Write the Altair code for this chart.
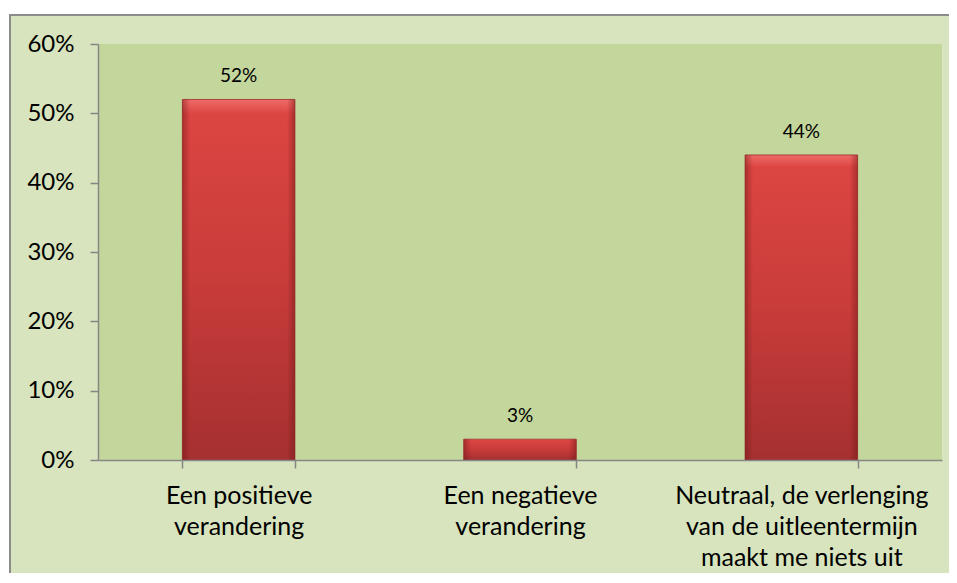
import altair as alt
import pandas as pd

categories = [
    "Een positieve verandering",
    "Een negatieve verandering",
    "Neutraal, de verlenging van de uitleentermijn maakt me niets uit",
]
label_lines = [
    "Een positieve|verandering",
    "Een negatieve|verandering",
    "Neutraal, de verlenging|van de uitleentermijn|maakt me niets uit",
]
values = [0.52, 0.03, 0.44]
y_ticks = [0, 0.1, 0.2, 0.3, 0.4, 0.5, 0.6]

df = pd.DataFrame({"cat": label_lines, "val": values})
one = pd.DataFrame({"a": [0]})

W, H = 844, 416
FONT = "Lato"

outer = alt.Chart(one).mark_rect(fill="#D7E4BD", stroke="#8C8C8C", strokeWidth=2).encode(
    x=alt.value(-88), x2=alt.value(W + 60), y=alt.value(-29), y2=alt.value(H + 200)
)
inner = alt.Chart(one).mark_rect(fill="#C3D69B").encode(
    x=alt.value(0), x2=alt.value(W), y=alt.value(0), y2=alt.value(H)
)

xaxis = alt.Axis(
    title=None,
    zindex=1,
    labelAngle=0,
    labelExpr="split(datum.label, '|')",
    tickBand="extent",
    tickSize=8,
    labelPadding=15,
    labelFontSize=25,
    labelLineHeight=31,
    labelBaseline="top",
    labelLimit=400,
)
yaxis = alt.Axis(
    title=None,
    zindex=1,
    values=y_ticks,
    format=".0%",
    tickSize=8,
    labelPadding=16,
    labelFontSize=24,
    grid=False,
)

xenc = alt.X("cat:N", sort=label_lines,
             scale=alt.Scale(paddingInner=0.6, paddingOuter=0.3), axis=xaxis)
yenc = alt.Y("val:Q", scale=alt.Scale(domain=[0, 0.6], nice=False), axis=yaxis)

bars = alt.Chart(df).mark_bar(
    stroke="#9B2F2D",
    strokeWidth=0.8,
    fill=alt.Gradient(
        gradient="linear",
        x1=0, y1=0, x2=0, y2=1,
        stops=[
            alt.GradientStop(offset=0, color="#EE6B68"),
            alt.GradientStop(offset=0.04, color="#DC4542"),
            alt.GradientStop(offset=0.5, color="#C83C3A"),
            alt.GradientStop(offset=1, color="#A53030"),
        ],
    ),
).encode(x=xenc, y=yenc)

bevel = alt.Chart(df).mark_bar(
    fill=alt.Gradient(
        gradient="linear",
        x1=0, y1=0, x2=1, y2=0,
        stops=[
            alt.GradientStop(offset=0, color="rgba(110,20,20,0.45)"),
            alt.GradientStop(offset=0.07, color="rgba(110,20,20,0)"),
            alt.GradientStop(offset=0.93, color="rgba(110,20,20,0)"),
            alt.GradientStop(offset=1, color="rgba(110,20,20,0.45)"),
        ],
    ),
).encode(x=xenc, y=yenc)

text = alt.Chart(df).mark_text(
    dy=-17, baseline="alphabetic", fontSize=19, font=FONT, color="#000000"
).encode(
    x=xenc,
    y=yenc,
    text=alt.Text("val:Q", format=".0%"),
)

chart = alt.layer(outer, inner, bars, bevel, text).properties(
    width=W,
    height=H,
    autosize=alt.AutoSizeParams(type="none"),
    padding={"left": 90, "top": 36, "right": 7, "bottom": 113},
    background="white",
).configure_view(stroke=None).configure_axis(
    domainColor="#868686",
    tickColor="#868686",
    domainWidth=1.5,
    tickWidth=1.5,
    labelColor="#000000",
    labelFont=FONT,
)

chart.save("out.html", embed_options={"renderer": "svg", "actions": False})
